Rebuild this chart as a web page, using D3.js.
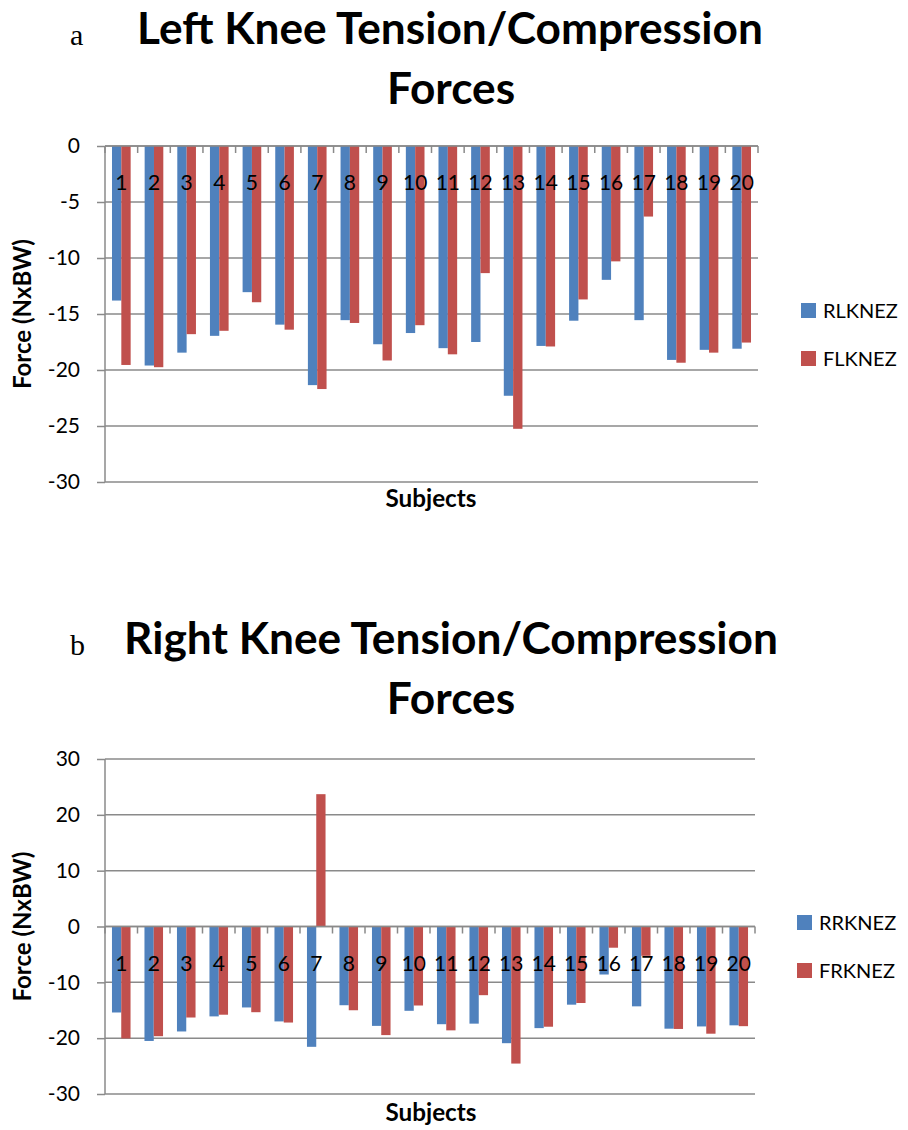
<!DOCTYPE html>
<html>
<head>
	<title>Knee forces</title>
	<script src="https://d3js.org/d3.v7.min.js"></script>
	<style>
		body { margin: 0; background: #fff; }
		svg text { font-family: Lato, "Open Sans", sans-serif; fill: #000; }
		.grid line { stroke: #8a8a8a; stroke-width: 1.5; }
		.axis path, .axis line { stroke: #8a8a8a; stroke-width: 1.5; }
		.axis text { font-size: 21px; }
		.cat { font-size: 21px; text-anchor: middle; }
	</style>
</head>
<body>

<script>

var subjects = ["1","2","3","4","5","6","7","8","9","10","11","12","13","14","15","16","17","18","19","20"];

var leftR = [-13.8, -19.6, -18.45, -16.95, -13.05, -15.95, -21.35, -15.55, -17.7, -16.7,
             -18.05, -17.5, -22.3, -17.85, -15.6, -11.95, -15.55, -19.1, -18.2, -18.1];
var leftF = [-19.55, -19.75, -16.8, -16.5, -13.95, -16.4, -21.7, -15.8, -19.15, -16.0,
             -18.6, -11.35, -25.25, -17.9, -13.7, -10.3, -6.3, -19.35, -18.45, -17.55];

var rightR = [-15.4, -20.5, -18.8, -16.1, -14.5, -17.0, -21.55, -14.1, -17.8, -15.1,
              -17.5, -17.4, -20.9, -18.2, -14.0, -8.6, -14.3, -18.3, -17.9, -17.7];
var rightF = [-20.05, -19.65, -16.3, -15.8, -15.35, -17.2, 23.7, -15.0, -19.45, -14.15,
              -18.6, -12.3, -24.55, -17.95, -13.7, -3.8, -5.25, -18.35, -19.2, -17.85];

var leftTicks = [0, -5, -10, -15, -20, -25, -30];
var rightTicks = [30, 20, 10, 0, -10, -20, -30];

var colors = ["#4f81bd", "#c0504d"];

var svg = d3.select("body").append("svg")
    .attr("width", 908)
    .attr("height", 1130);

// scale font so the text is as wide as in the picture
function fitText(sel, target) {
  var len = sel.node().getComputedTextLength();
  var fs = parseFloat(sel.style("font-size"));
  sel.style("font-size", (fs * target / len) + "px");
}

function drawChart(o) {
  var g = svg.append("g");

  var x = d3.scaleBand().domain(subjects).range([o.left, o.right]);
  var x1 = d3.scaleBand().domain([0, 1]).range([0, x.bandwidth()]).paddingOuter(0.75);
  var y = d3.scaleLinear().domain(o.domain).range([o.top, o.bottom]);

  // letter
  g.append("text")
      .attr("x", 70).attr("y", o.letterY)
      .style("font-family", "'Liberation Serif', serif")
      .style("font-size", "30px")
      .text(o.letter);

  // title
  var t1 = g.append("text")
      .attr("x", o.titleX).attr("y", o.titleY)
      .attr("text-anchor", "middle")
      .style("font-weight", "bold").style("font-size", "38px")
      .text(o.title);
  fitText(t1, o.titleW);
  g.append("text")
      .attr("x", 451).attr("y", o.titleY + 60)
      .attr("text-anchor", "middle")
      .style("font-weight", "bold").style("font-size", t1.style("font-size"))
      .text("Forces");

  // gridlines
  g.append("g").attr("class", "grid")
    .selectAll("line")
    .data(o.ticks)
    .enter().append("line")
      .attr("x1", o.left).attr("x2", o.right)
      .attr("y1", function(d) { return y(d); })
      .attr("y2", function(d) { return y(d); });

  // y axis
  var ya = g.append("g").attr("class", "axis")
      .attr("transform", "translate(" + o.left + ",0)")
      .call(d3.axisLeft(y).tickValues(o.ticks).tickSize(8).tickPadding(17).tickSizeOuter(0)
            .tickFormat(function(d) { return d; }));
  ya.select(".domain").attr("d", "M0," + o.top + "V" + o.bottom);

  // bars
  var series = [o.r, o.f];
  series.forEach(function(vals, s) {
    g.append("g").selectAll("rect")
      .data(vals)
      .enter().append("rect")
        .attr("x", function(d, i) { return x(subjects[i]) + x1(s); })
        .attr("width", x1.bandwidth())
        .attr("y", function(d) { return y(Math.max(0, d)); })
        .attr("height", function(d) { return Math.abs(y(d) - y(0)); })
        .style("fill", colors[s]);
  });

  // category axis at zero
  var y0 = y(0);
  g.append("line")
      .attr("x1", o.left).attr("x2", o.right)
      .attr("y1", y0).attr("y2", y0)
      .style("stroke", "#8a8a8a").style("stroke-width", 1.6);
  var bounds = subjects.map(function(d) { return x(d); }).concat([o.right]);
  g.append("g").selectAll("line")
    .data(bounds)
    .enter().append("line")
      .attr("x1", function(d) { return d; }).attr("x2", function(d) { return d; })
      .attr("y1", y0).attr("y2", y0 + 7)
      .style("stroke", "#8a8a8a").style("stroke-width", 1.5);

  g.append("g").selectAll("text")
    .data(subjects)
    .enter().append("text")
      .attr("class", "cat")
      .attr("x", function(d) { return x(d) + x.bandwidth() / 2; })
      .attr("y", y0 + 44)
      .text(function(d) { return d; });

  // axis titles
  var yt = g.append("text")
      .attr("transform", "translate(31," + ((o.top + o.bottom) / 2) + ") rotate(-90)")
      .attr("text-anchor", "middle")
      .style("font-weight", "bold").style("font-size", "18px")
      .text("Force (NxBW)");
  fitText(yt, 150);
  var xt = g.append("text")
      .attr("x", 431).attr("y", o.subjY)
      .attr("text-anchor", "middle")
      .style("font-weight", "bold").style("font-size", "18px")
      .text("Subjects");
  fitText(xt, 91);

  // legend
  var lg = g.append("g").selectAll("g")
    .data(o.names)
    .enter().append("g")
      .attr("transform", function(d, i) { return "translate(" + o.legX + "," + (o.legY + i * 48) + ")"; });
  lg.append("rect")
      .attr("width", 15).attr("height", 15)
      .style("fill", function(d, i) { return colors[i]; });
  lg.append("text")
      .attr("x", 22).attr("y", 15)
      .style("font-size", "20px")
      .text(function(d) { return d; });
}

drawChart({
  letter: "a", letterY: 45,
  title: "Left Knee Tension/Compression", titleX: 450, titleY: 44, titleW: 626,
  left: 105, right: 758, top: 146, bottom: 482,
  domain: [0, -30], ticks: leftTicks,
  r: leftR, f: leftF,
  names: ["RLKNEZ", "FLKNEZ"], legX: 801, legY: 303,
  subjY: 507
});

drawChart({
  letter: "b", letterY: 655,
  title: "Right Knee Tension/Compression", titleX: 451, titleY: 654, titleW: 654,
  left: 105, right: 755, top: 759, bottom: 1094,
  domain: [30, -30], ticks: rightTicks,
  r: rightR, f: rightF,
  names: ["RRKNEZ", "FRKNEZ"], legX: 797, legY: 915,
  subjY: 1121
});

</script>

</body>
</html>
